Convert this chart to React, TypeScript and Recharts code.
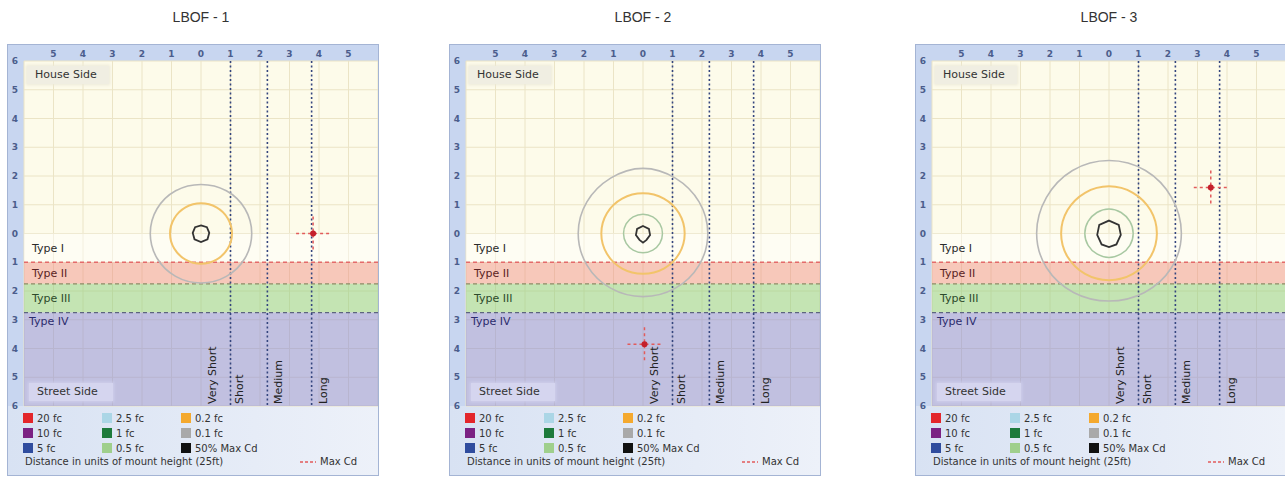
import React from "react";
import {
  ScatterChart,
  Scatter,
  XAxis,
  YAxis,
  CartesianGrid,
  ReferenceArea,
  ReferenceLine,
} from "recharts";

const titles = ["LBOF - 1", "LBOF - 2", "LBOF - 3"];
const xTicks = [-5, -4, -3, -2, -1, 0, 1, 2, 3, 4, 5];
const yTicks = [-6, -5, -4, -3, -2, -1, 0, 1, 2, 3, 4, 5, 6];

// lateral zones (street side is negative y)
const zoneNames = ["Type I", "Type II", "Type III", "Type IV"];
const zoneFrom = [0, -1, -1.75, -2.75];
const zoneTo = [-1, -1.75, -2.75, -6];
const zoneFills = ["#ffffff", "#ef8a80", "#8ccd7c", "#8a8ad6"];
const zoneOpacity = [0.45, 0.45, 0.5, 0.52];
const zoneTextColors = ["#2b2b2b", "#5a2424", "#2d4a2b", "#2c2c6e"];
const zoneLines = [-1, -1.75, -2.75];
const zoneLineColors = ["#e46a6a", "#8f8a66", "#5d6480"];

// longitudinal ranges
const rangeLines = [1, 2.25, 3.75];
const rangeNames = ["Very Short", "Short", "Medium", "Long"];
const rangeAnchor = [1, 1, 2.25, 3.75];
const rangeShift = [-15, 12, 15, 15];

const legendLabels = ["20 fc", "10 fc", "5 fc", "2.5 fc", "1 fc", "0.5 fc", "0.2 fc", "0.1 fc", "50% Max Cd"];
const legendColors = ["#e3262b", "#7b2283", "#2f4c9e", "#abd6e6", "#1d7a3c", "#9fcf8c", "#f4a92f", "#a9a9a9", "#111111"];

const GRAY = "#b8b8b8";
const ORANGE = "#f2c46a";
const GREEN = "#a8c8a2";
const BLACK = "#333333";

// LBOF - 1 isolines
const p1Gray = [
  { x: 0, y: 1.78 }, { x: 0.9, y: 1.56 }, { x: 1.56, y: 0.9 }, { x: 1.8, y: 0 },
  { x: 1.56, y: -0.9 }, { x: 0.9, y: -1.56 }, { x: 0, y: -1.8 }, { x: -0.9, y: -1.56 },
  { x: -1.56, y: -0.9 }, { x: -1.8, y: 0 }, { x: -1.56, y: 0.9 }, { x: -0.9, y: 1.56 },
];
const p1Orange = [
  { x: 0, y: 1.1 }, { x: 0.55, y: 0.95 }, { x: 0.95, y: 0.55 }, { x: 1.1, y: 0 },
  { x: 0.95, y: -0.55 }, { x: 0.55, y: -0.95 }, { x: 0, y: -1.1 }, { x: -0.55, y: -0.95 },
  { x: -0.95, y: -0.55 }, { x: -1.1, y: 0 }, { x: -0.95, y: 0.55 }, { x: -0.55, y: 0.95 },
];
const p1Black = [
  { x: 0, y: 0.28 }, { x: 0.2, y: 0.22 }, { x: 0.28, y: 0.02 }, { x: 0.22, y: -0.2 },
  { x: 0, y: -0.3 }, { x: -0.22, y: -0.2 }, { x: -0.28, y: 0.02 }, { x: -0.2, y: 0.22 },
];

// LBOF - 2 isolines
const p2Gray = [
  { x: 0, y: 2.4 }, { x: 1.15, y: 2.0 }, { x: 1.99, y: 1.15 }, { x: 2.3, y: 0 },
  { x: 1.99, y: -1.15 }, { x: 1.15, y: -1.99 }, { x: 0, y: -2.3 }, { x: -1.15, y: -1.99 },
  { x: -1.99, y: -1.15 }, { x: -2.3, y: 0 }, { x: -1.99, y: 1.15 }, { x: -1.15, y: 2.0 },
];
const p2Orange = [
  { x: 0, y: 1.46 }, { x: 0.74, y: 1.27 }, { x: 1.28, y: 0.74 }, { x: 1.48, y: 0 },
  { x: 1.28, y: -0.74 }, { x: 0.74, y: -1.28 }, { x: 0, y: -1.46 }, { x: -0.74, y: -1.28 },
  { x: -1.28, y: -0.74 }, { x: -1.48, y: 0 }, { x: -1.28, y: 0.74 }, { x: -0.74, y: 1.27 },
];
const p2Green = [
  { x: 0, y: 0.7 }, { x: 0.35, y: 0.6 }, { x: 0.6, y: 0.35 }, { x: 0.69, y: 0 },
  { x: 0.6, y: -0.35 }, { x: 0.35, y: -0.6 }, { x: 0, y: -0.7 }, { x: -0.35, y: -0.6 },
  { x: -0.6, y: -0.35 }, { x: -0.69, y: 0 }, { x: -0.6, y: 0.35 }, { x: -0.35, y: 0.6 },
];
const p2Black = [
  { x: 0, y: 0.26 }, { x: 0.2, y: 0.16 }, { x: 0.24, y: -0.05 }, { x: 0.12, y: -0.22 },
  { x: 0, y: -0.32 }, { x: -0.12, y: -0.22 }, { x: -0.24, y: -0.05 }, { x: -0.2, y: 0.16 },
];

// LBOF - 3 isolines
const p3Gray = [
  { x: 0, y: 2.66 }, { x: 1.3, y: 2.3 }, { x: 2.22, y: 1.3 }, { x: 2.57, y: 0 },
  { x: 2.22, y: -1.25 }, { x: 1.25, y: -2.15 }, { x: 0, y: -2.45 }, { x: -1.25, y: -2.15 },
  { x: -2.22, y: -1.25 }, { x: -2.57, y: 0 }, { x: -2.22, y: 1.3 }, { x: -1.3, y: 2.3 },
];
const p3Orange = [
  { x: 0, y: 1.72 }, { x: 0.85, y: 1.48 }, { x: 1.47, y: 0.85 }, { x: 1.7, y: 0 },
  { x: 1.47, y: -0.85 }, { x: 0.85, y: -1.47 }, { x: 0, y: -1.7 }, { x: -0.85, y: -1.47 },
  { x: -1.47, y: -0.85 }, { x: -1.7, y: 0 }, { x: -1.47, y: 0.85 }, { x: -0.85, y: 1.48 },
];
const p3Green = [
  { x: 0, y: 0.9 }, { x: 0.43, y: 0.76 }, { x: 0.74, y: 0.44 }, { x: 0.86, y: 0 },
  { x: 0.74, y: -0.43 }, { x: 0.43, y: -0.74 }, { x: 0, y: -0.88 }, { x: -0.43, y: -0.74 },
  { x: -0.74, y: -0.43 }, { x: -0.86, y: 0 }, { x: -0.74, y: 0.44 }, { x: -0.43, y: 0.76 },
];
const p3Black = [
  { x: 0, y: 0.45 }, { x: 0.33, y: 0.3 }, { x: 0.4, y: -0.05 }, { x: 0.25, y: -0.38 },
  { x: 0, y: -0.47 }, { x: -0.25, y: -0.38 }, { x: -0.4, y: -0.05 }, { x: -0.33, y: 0.3 },
];

const maxCdX = [3.8, 0.05, 3.45];
const maxCdY = [0, -3.85, 1.6];

const panelContours = [
  [
    { data: p1Gray, color: GRAY, w: 1.6, curve: "basisClosed" },
    { data: p1Orange, color: ORANGE, w: 2, curve: "basisClosed" },
    { data: p1Black, color: BLACK, w: 1.8, curve: "linearClosed" },
  ],
  [
    { data: p2Gray, color: GRAY, w: 1.6, curve: "basisClosed" },
    { data: p2Orange, color: ORANGE, w: 2, curve: "basisClosed" },
    { data: p2Green, color: GREEN, w: 1.5, curve: "basisClosed" },
    { data: p2Black, color: BLACK, w: 1.8, curve: "linearClosed" },
  ],
  [
    { data: p3Gray, color: GRAY, w: 1.6, curve: "basisClosed" },
    { data: p3Orange, color: ORANGE, w: 2, curve: "basisClosed" },
    { data: p3Green, color: GREEN, w: 1.5, curve: "basisClosed" },
    { data: p3Black, color: BLACK, w: 1.8, curve: "linearClosed" },
  ],
];

const panelLefts = [7, 449, 915];
const FONT = "'DejaVu Sans', Verdana, sans-serif";

const NoDot = () => <g />;

const MaxCdMark = (props: any) => {
  const { cx, cy } = props;
  return (
    <g>
      <line x1={cx - 17} x2={cx + 17} y1={cy} y2={cy} stroke="#e25b5b" strokeWidth={1.5} strokeDasharray="3 3" />
      <line x1={cx} x2={cx} y1={cy - 17} y2={cy + 17} stroke="#e25b5b" strokeWidth={1.5} strokeDasharray="3 3" />
      <circle cx={cx} cy={cy} r={3} fill="#c4202c" />
    </g>
  );
};

const RangeLabel = (props: any) => {
  const { viewBox, text, shift } = props;
  if (!viewBox) return null;
  const x = viewBox.x + shift;
  const y = viewBox.y + viewBox.height - 2;
  return (
    <text x={x} y={y} transform={`rotate(-90 ${x} ${y})`} fontSize={11} fill="#222" fontFamily={FONT}>
      {text}
    </text>
  );
};

function Panel({ idx }: { idx: number }) {
  const left = panelLefts[idx];
  return (
    <>
      <div
        style={{
          position: "absolute",
          left: left + 194 - 60,
          width: 120,
          top: 9,
          textAlign: "center",
          fontFamily: "'Liberation Sans', Arial, sans-serif",
          fontSize: 14,
          color: "#333",
        }}
      >
        {titles[idx]}
      </div>
      <div
        style={{
          position: "absolute",
          left,
          top: 44,
          width: 370,
          height: 430,
          border: "1px solid #a4b4d4",
          background: "#c8d6f0",
          overflow: "hidden",
        }}
      >
        <div
          style={{
            position: "absolute",
            left: 0,
            top: 361,
            width: 370,
            height: 69,
            background: "linear-gradient(to right, #d8e2f3, #edf1f9)",
          }}
        />
        <div style={{ position: "absolute", left: 0, top: 0 }}>
          <ScatterChart width={370} height={368} margin={{ top: 0, right: 0, bottom: 7, left: 0 }}>
            <CartesianGrid fill="#fdfbea" stroke="#ebe4c6" strokeWidth={1} />
            <XAxis
              type="number"
              dataKey="x"
              orientation="top"
              domain={[-6, 6]}
              ticks={xTicks}
              interval={0}
              height={16}
              axisLine={false}
              tickLine={false}
              tickSize={0}
              tickMargin={4}
              tickFormatter={(v: number) => String(Math.abs(v))}
              tick={{ fontSize: 9, fontWeight: "bold", fill: "#4b5d8c", fontFamily: FONT }}
            />
            <YAxis
              type="number"
              dataKey="y"
              domain={[-6, 6]}
              ticks={yTicks}
              interval={0}
              width={16}
              axisLine={false}
              tickLine={false}
              tickSize={0}
              tickMargin={6}
              tickFormatter={(v: number) => String(Math.abs(v))}
              tick={{ fontSize: 9, fontWeight: "bold", fill: "#4b5d8c", fontFamily: FONT }}
            />
            {zoneNames.map((name, i) => (
              <ReferenceArea
                key={name}
                y1={zoneFrom[i]}
                y2={zoneTo[i]}
                fill={zoneFills[i]}
                fillOpacity={zoneOpacity[i]}
                stroke="none"
                label={{
                  value: name,
                  position: i === 3 ? "insideTopLeft" : "insideLeft",
                  offset: i === 3 ? 5 : 8,
                  fill: zoneTextColors[i],
                  fontSize: 11,
                  fontFamily: FONT,
                }}
              />
            ))}
            {zoneLines.map((v, i) => (
              <ReferenceLine
                key={"h" + v}
                y={v}
                stroke={zoneLineColors[i]}
                strokeWidth={1.3}
                strokeDasharray="4 3"
              />
            ))}
            {rangeLines.map((v) => (
              <ReferenceLine key={"v" + v} x={v} stroke="#34457e" strokeWidth={1.6} strokeDasharray="2 2.5" />
            ))}
            {rangeNames.map((name, i) => (
              <ReferenceLine
                key={name}
                x={rangeAnchor[i]}
                stroke="none"
                strokeOpacity={0}
                label={<RangeLabel text={name} shift={rangeShift[i]} />}
              />
            ))}
            {panelContours[idx].map((c, i) => (
              <Scatter
                key={i}
                data={c.data}
                line={{ stroke: c.color, strokeWidth: c.w }}
                lineType="joint"
                lineJointType={c.curve as any}
                shape={NoDot}
                isAnimationActive={false}
              />
            ))}
            <Scatter
              data={[{ x: maxCdX[idx], y: maxCdY[idx] }]}
              shape={MaxCdMark}
              isAnimationActive={false}
            />
          </ScatterChart>
        </div>
        <div
          style={{
            position: "absolute",
            left: 19,
            top: 21,
            width: 82,
            height: 18,
            background: "#f0eee2",
            boxShadow: "0 0 3px 1px #ece9d9",
            fontFamily: FONT,
            fontSize: 11,
            color: "#333",
            lineHeight: "18px",
            paddingLeft: 8,
            boxSizing: "border-box",
          }}
        >
          House Side
        </div>
        <div
          style={{
            position: "absolute",
            left: 21,
            top: 338,
            width: 84,
            height: 18,
            background: "#d5d5ef",
            boxShadow: "0 0 3px 1px #cfcfec",
            fontFamily: FONT,
            fontSize: 11,
            color: "#333",
            lineHeight: "18px",
            paddingLeft: 8,
            boxSizing: "border-box",
          }}
        >
          Street Side
        </div>
        {legendLabels.map((lab, i) => (
          <div
            key={lab}
            style={{
              position: "absolute",
              left: 15 + Math.floor(i / 3) * 79,
              top: 366 + (i % 3) * 15,
              height: 14,
              display: "flex",
              alignItems: "center",
              fontFamily: FONT,
              fontSize: 10,
              color: "#333",
              whiteSpace: "nowrap",
            }}
          >
            <span style={{ width: 10, height: 10, background: legendColors[i], marginRight: 4, display: "inline-block" }} />
            {lab}
          </div>
        ))}
        <div
          style={{
            position: "absolute",
            left: 17,
            top: 411,
            fontFamily: FONT,
            fontSize: 10,
            color: "#333",
            whiteSpace: "nowrap",
          }}
        >
          Distance in units of mount height (25ft)
        </div>
        <div
          style={{
            position: "absolute",
            left: 292,
            top: 411,
            fontFamily: FONT,
            fontSize: 10,
            color: "#333",
            whiteSpace: "nowrap",
            display: "flex",
            alignItems: "center",
          }}
        >
          <svg width={16} height={8} style={{ marginRight: 4 }}>
            <line x1={0} x2={16} y1={4} y2={4} stroke="#e25b5b" strokeWidth={1.5} strokeDasharray="3 2" />
          </svg>
          Max Cd
        </div>
      </div>
    </>
  );
}

export default function App() {
  return (
    <div
      style={{
        position: "absolute",
        left: 0,
        top: 0,
        width: 1285,
        height: 480,
        background: "#ffffff",
        overflow: "hidden",
      }}
    >
      {titles.map((t, i) => (
        <Panel key={t} idx={i} />
      ))}
    </div>
  );
}
